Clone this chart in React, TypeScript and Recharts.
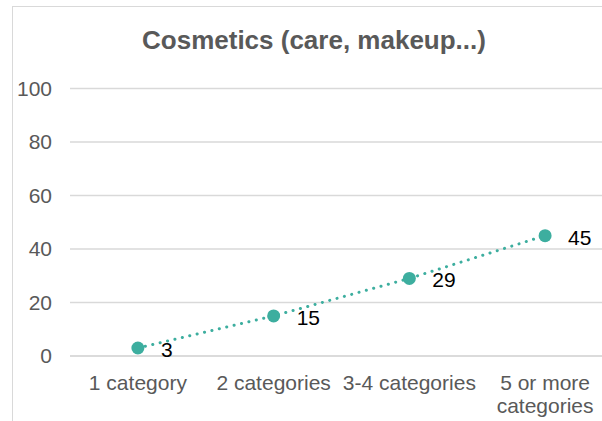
import React from "react";
import { LineChart, Line, XAxis, YAxis, CartesianGrid, LabelList } from "recharts";

const categories = ["1 category", "2 categories", "3-4 categories", "5 or more categories"];
const shares = [3, 15, 29, 45];
const yTicks = [0, 20, 40, 60, 80, 100];

const data = categories.map((name, i) => ({ name, value: shares[i] }));

const TEAL = "#3DAE9F";
const GREY = "#595959";
const FONT = "'Liberation Sans', Arial, sans-serif";

// wrap long category names like Excel does
const wrap = (label: string, max = 14) => {
  const lines: string[] = [];
  let cur = "";
  label.split(" ").forEach((w) => {
    const next = cur ? cur + " " + w : w;
    if (next.length > max && cur) {
      lines.push(cur);
      cur = w;
    } else cur = next;
  });
  if (cur) lines.push(cur);
  return lines;
};

const CategoryTick = (props: any) => {
  const { x, y, payload } = props;
  const lines = wrap(String(payload.value));
  return (
    <text x={x} y={y + 34} textAnchor="middle" fill={GREY} fontSize={21} fontFamily={FONT}>
      {lines.map((l, i) => (
        <tspan key={i} x={x} dy={i === 0 ? 0 : 23}>
          {l}
        </tspan>
      ))}
    </text>
  );
};

const ValueLabel = (props: any) => {
  const { x, y, value } = props;
  return (
    <text x={x + 23} y={y + 9} fill="#000" fontSize={21} fontFamily={FONT}>
      {value}
    </text>
  );
};

const App = () => {
  return (
    <div
      style={{
        position: "fixed",
        left: 0,
        top: 0,
        width: 602,
        height: 421,
        overflow: "hidden",
        background: "#fff",
      }}
    >
      <div
        style={{
          position: "absolute",
          left: 12,
          top: 6,
          width: 620,
          height: 440,
          border: "1px solid #d9d9d9",
        }}
      />
      <svg width={602} height={60} style={{ position: "absolute", left: 0, top: 0 }}>
        <text x={314} y={49} textAnchor="middle" fill={GREY} fontSize={26} fontWeight="bold" fontFamily={FONT}>
          Cosmetics (care, makeup...)
        </text>
      </svg>
      <div style={{ position: "absolute", left: 0, top: 0 }}>
        <LineChart
          width={620}
          height={421}
          data={data}
          margin={{ top: 88.5, right: 7, left: 0, bottom: 0 }}
        >
          <CartesianGrid vertical={false} stroke="#d9d9d9" strokeWidth={1.5} />
          <XAxis
            dataKey="name"
            height={65}
            padding={{ left: 67.9, right: 67.9 }}
            tickLine={false}
            axisLine={{ stroke: "#d9d9d9", strokeWidth: 1.5 }}
            tickSize={0}
            tickMargin={0}
            interval={0}
            tick={<CategoryTick />}
          />
          <YAxis
            width={70}
            domain={[0, 100]}
            ticks={yTicks}
            axisLine={false}
            tickLine={false}
            tickSize={0}
            tickMargin={18}
            tick={{ fill: GREY, fontSize: 21, fontFamily: FONT }}
          />
          <Line
            type="linear"
            dataKey="value"
            stroke={TEAL}
            strokeWidth={3}
            strokeDasharray="0.1 7.5"
            strokeLinecap="round"
            dot={{ r: 6.5, fill: TEAL, stroke: "none" }}
            activeDot={false}
            isAnimationActive={false}
          >
            <LabelList dataKey="value" content={<ValueLabel />} />
          </Line>
        </LineChart>
      </div>
    </div>
  );
};

export default App;
